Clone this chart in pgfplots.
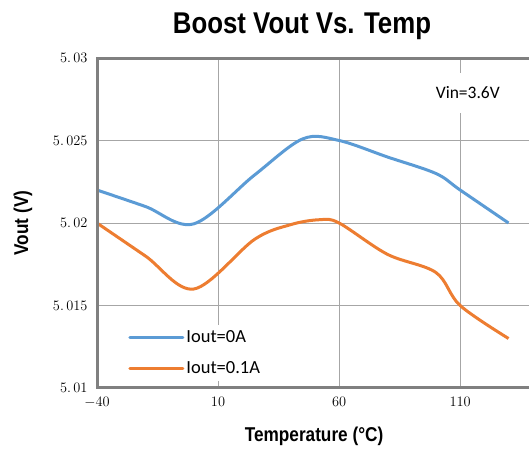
\documentclass[border=0pt]{standalone}
\usepackage{fontspec}
\usepackage{pgfplots}
\pgfplotsset{compat=1.18}
\setmainfont{Liberation Sans}
\newfontfamily\labelfont[FakeStretch=0.86]{Liberation Sans}
\newfontfamily\legfont{Carlito}
\definecolor{cblue}{HTML}{5B9BD5}
\definecolor{corange}{HTML}{ED7D31}
\definecolor{gridgray}{HTML}{A6A6A6}
\colorlet{axgray}{black!50}
\begin{document}
\begin{tikzpicture}[x=1pt,y=1pt]
\path[use as bounding box] (0,0) rectangle (529,448);
\begin{axis}[
  name=ax,
  at={(97pt,60pt)}, anchor=south west,
  scale only axis,
  width=443pt, height=330pt,
  xmin=-40, xmax=143,
  ymin=5.01, ymax=5.03,
  xtick={-40,10,60,110},
  ytick={5.01,5.015,5.02,5.025,5.03},
  yticklabels={$5.\,01$,$5.\,015$,$5.\,02$,$5.\,025$,$5.\,03$},
  tick label style={font=\fontsize{14}{16}\selectfont},
  major tick length=0pt,
  xticklabel style={yshift=-6pt},
  yticklabel style={xshift=-6pt},
  grid=major,
  major grid style={gridgray, line width=1pt},
  axis line style={draw=none},
  xlabel={Temperature (°C)},
  ylabel={Vout (V)},
  label style={font=\labelfont\bfseries\fontsize{20}{22}\selectfont},
  xlabel style={at={(axis description cs:0.49,-0.147)}, anchor=center},
  ylabel style={at={(axis description cs:-0.167,0.5)}, anchor=center},
  legend style={at={(axis description cs:0.023,0.192)}, anchor=north west,
    draw=none, fill=white, font=\legfont\fontsize{18.5}{20}\selectfont,
    inner xsep=21pt, inner ysep=4pt, row sep=13pt, cells={anchor=west}},
  legend image code/.code={\draw[#1, line width=3pt, line cap=round] (0pt,0pt) -- (53pt,0pt);},
  clip=false,
]
\addplot[cblue, line width=3pt, smooth, tension=0.55] coordinates {
(-40,5.0220) (-20,5.0210) (0,5.01995) (25,5.0229) (45,5.0251) (60,5.0250)
(80,5.0240) (100,5.0230) (110,5.0220) (130,5.0200)};
\addlegendentry{Iout=0A}
\addplot[corange, line width=3pt, smooth, tension=0.55] coordinates {
(-40,5.0200) (-20,5.0180) (0,5.0160) (25,5.0190) (40,5.0199) (52,5.0202) (60,5.0200)
(80,5.0181) (100,5.0170) (110,5.0150) (130,5.0130)};
\addlegendentry{Iout=0.1A}
\node[fill=white, minimum width=110pt, minimum height=40pt, font=\legfont\fontsize{17.5}{19}\selectfont]
  at (rel axis cs:0.837,0.894) {Vin=3.6V};
\end{axis}
\fill[axgray] (96,61) rectangle (99,391);
\fill[axgray] (96,388) rectangle (640,391);
\fill[axgray] (96,59) rectangle (640,62);
\node[font=\labelfont\bfseries\fontsize{30}{34}\selectfont] at (302,422) {Boost Vout Vs. Temp};
\end{tikzpicture}
\end{document}
